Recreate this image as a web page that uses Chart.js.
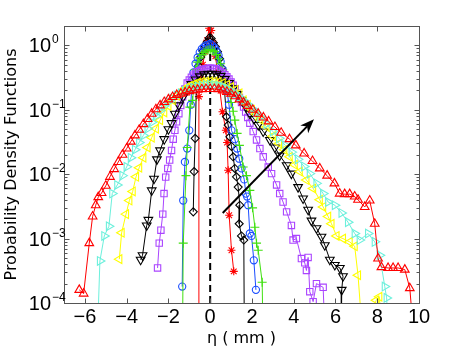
<!DOCTYPE html>
<html><head><meta charset="utf-8">
<script src="https://cdn.jsdelivr.net/npm/chart.js@4.4.1/dist/chart.umd.min.js"></script>
<style>html,body{margin:0;padding:0;background:#fff;}canvas{display:block;}</style>
</head><body>
<canvas id="c" width="463" height="349"></canvas>
<script>
// ---- tick labels ----
const xTickValues = [-6, -4, -2, 0, 2, 4, 6, 8, 10];
const yDecadeExponents = [-4, -3, -2, -1, 0];

// ---- series: [eta (mm), PDF] ----
const redStar = [[-0.56,1e-6],[-0.54,0.16],[-0.45,0.3],[-0.35,0.5],[-0.25,0.8],[-0.15,1.2],[-0.05,1.85],[0.05,1.7],[0.15,1.1],[0.25,0.68],[0.35,0.4],[0.45,0.22],[0.59,0.093],[0.75,0.048],[0.81,0.031],[0.86,0.0115],[0.91,0.0023],[1.02,6.6e-4],[1.13,3.1e-4]];
const blackDiamond = [[-0.81,2.6e-3],[-0.77,0.011],[-0.72,0.036],[-0.66,0.25],[-0.55,0.48],[-0.45,0.66],[-0.35,0.82],[-0.25,0.98],[-0.15,1.12],[-0.05,1.3],[0.05,1.28],[0.15,1.1],[0.25,0.95],[0.35,0.8],[0.45,0.62],[0.55,0.45],[0.65,0.29],[0.78,0.078],[0.86,0.058],[0.94,0.038],[1.02,0.027],[1.10,0.0186],[1.18,0.0123],[1.26,0.0091],[1.34,0.0063],[1.42,0.0033],[1.39,0.0017],[1.50,0.0011],[1.61,9.5e-4],[1.66,1e-6]];
const blueCircle = [[-1.34,1.8e-4],[-1.29,3.9e-3],[-1.21,0.0155],[-1.10,0.025],[-1.0,0.048],[-0.93,0.12],[-0.86,0.29],[-0.8,0.38],[-0.7,0.52],[-0.6,0.65],[-0.5,0.78],[-0.4,0.88],[-0.3,0.95],[-0.2,1.0],[-0.1,1.03],[0,1.05],[0.1,1.0],[0.2,0.92],[0.3,0.82],[0.4,0.7],[0.5,0.56],[0.6,0.42],[0.7,0.3],[0.8,0.2],[0.9,0.12],[1.02,0.048],[1.18,0.035],[1.29,0.025],[1.39,0.0174],[1.50,0.0123],[1.63,0.0083],[1.71,0.005],[1.77,0.0045],[1.82,0.0033],[1.90,0.0012],[1.98,0.0011],[2.09,4.6e-4],[2.19,1.6e-4]];
const greenPlus = [[-1.36,1e-6],[-1.29,8.5e-4],[-1.16,0.0095],[-1.10,0.026],[-0.97,0.11],[-0.84,0.14],[-0.77,0.29],[-0.7,0.42],[-0.6,0.55],[-0.5,0.64],[-0.4,0.72],[-0.3,0.78],[-0.2,0.82],[-0.1,0.85],[0,0.86],[0.1,0.84],[0.2,0.8],[0.3,0.72],[0.4,0.62],[0.5,0.52],[0.6,0.42],[0.7,0.33],[0.8,0.25],[0.9,0.19],[1.0,0.13],[1.1,0.095],[1.18,0.069],[1.29,0.043],[1.4,0.028],[1.58,0.0129],[1.74,0.0095],[1.90,0.0056],[2.03,0.003],[2.14,0.0015],[2.22,8.5e-4],[2.30,6.6e-4],[2.49,2.1e-4],[2.6,1e-6]];
const purpleSquare = [[-2.52,3.5e-4],[-2.44,8.5e-4],[-2.36,1.35e-3],[-2.27,2.4e-3],[-2.21,5e-3],[-2.13,0.009],[-2.03,0.0123],[-1.94,0.0166],[-1.85,0.0234],[-1.77,0.035],[-1.69,0.048],[-1.61,0.065],[-1.5,0.087],[-1.41,0.117],[-1.32,0.16],[-1.21,0.21],[-1.1,0.26],[-1.0,0.29],[-0.9,0.32],[-0.8,0.345],[-0.7,0.37],[-0.6,0.39],[-0.5,0.405],[-0.4,0.418],[-0.3,0.428],[-0.2,0.435],[-0.1,0.44],[0,0.44],[0.1,0.44],[0.2,0.435],[0.3,0.425],[0.4,0.41],[0.5,0.395],[0.6,0.375],[0.7,0.35],[0.8,0.325],[0.9,0.3],[1.0,0.27],[1.1,0.24],[1.2,0.21],[1.3,0.18],[1.4,0.155],[1.5,0.13],[1.6,0.11],[1.7,0.092],[1.8,0.076],[1.9,0.062],[2.06,0.046],[2.22,0.034],[2.38,0.025],[2.54,0.0186],[2.78,0.0129],[2.94,0.0102],[3.18,0.0068],[3.33,0.005],[3.49,0.0037],[3.66,0.0026],[3.89,0.0016],[3.97,9.5e-4],[4.13,1e-3],[4.37,4.9e-4],[4.53,4.2e-4],[4.61,3.2e-4],[4.69,5.1e-4],[4.77,1.5e-4],[4.93,1.05e-4],[5.09,2e-4],[5.41,1.75e-4],[5.5,3e-5]];
const blackTriangle = [[-3.33,4.7e-4],[-3.24,5.5e-4],[-3.04,1.6e-3],[-2.96,1.95e-3],[-2.8,5.6e-3],[-2.69,8.5e-3],[-2.55,0.017],[-2.4,0.0234],[-2.2,0.035],[-2.0,0.05],[-1.85,0.062],[-1.69,0.087],[-1.5,0.117],[-1.3,0.158],[-1.1,0.204],[-0.9,0.25],[-0.7,0.295],[-0.5,0.33],[-0.3,0.355],[-0.1,0.363],[0.1,0.363],[0.3,0.355],[0.5,0.335],[0.7,0.3],[0.9,0.26],[1.1,0.215],[1.3,0.175],[1.5,0.14],[1.7,0.112],[1.9,0.087],[2.1,0.072],[2.3,0.058],[2.54,0.046],[2.86,0.034],[3.1,0.026],[3.33,0.0195],[3.66,0.0138],[3.89,0.0102],[4.21,0.0063],[4.45,0.0042],[4.69,0.0028],[4.85,0.0019],[5.09,0.00145],[5.33,0.00107],[5.49,7.9e-4],[5.73,4.7e-4],[5.97,3.9e-4],[6.21,3.5e-4],[6.36,2.6e-4],[6.3,1.6e-4],[6.28,3e-5]];
const yellowTriangle = [[-4.35,4.8e-4],[-4.24,1.23e-3],[-4.03,2.4e-3],[-3.87,3.9e-3],[-3.71,5.4e-3],[-3.55,0.0091],[-3.4,0.0126],[-3.2,0.018],[-3.0,0.026],[-2.8,0.037],[-2.6,0.051],[-2.4,0.069],[-2.2,0.091],[-2.0,0.115],[-1.8,0.141],[-1.6,0.166],[-1.4,0.19],[-1.2,0.214],[-1.0,0.234],[-0.8,0.25],[-0.6,0.263],[-0.4,0.272],[-0.2,0.275],[0,0.277],[0.2,0.275],[0.4,0.27],[0.6,0.26],[0.8,0.245],[1.0,0.226],[1.2,0.205],[1.4,0.18],[1.6,0.14],[1.8,0.12],[2.0,0.1],[2.2,0.085],[2.4,0.07],[2.7,0.054],[3.0,0.039],[3.3,0.03],[3.55,0.024],[3.81,0.0186],[4.05,0.014],[4.29,0.011],[4.61,0.0081],[4.93,0.006],[5.25,0.004],[5.41,0.0031],[5.65,0.0022],[5.81,0.0017],[6.05,0.0011],[6.36,0.001],[6.68,8.9e-4],[6.92,7.6e-4],[7.08,2.7e-4],[7.3,3e-5],[7.95,1.1e-4],[8.1,1.25e-4],[8.25,3e-5]];
const cyanTriangle = [[-5.4,3e-5],[-5.28,4.5e-4],[-5.07,1.1e-3],[-4.85,1.55e-3],[-4.69,5e-3],[-4.45,6.8e-3],[-4.2,0.0095],[-4.0,0.013],[-3.8,0.018],[-3.6,0.024],[-3.4,0.031],[-3.2,0.04],[-3.0,0.051],[-2.8,0.064],[-2.6,0.08],[-2.4,0.097],[-2.2,0.115],[-2.0,0.133],[-1.8,0.15],[-1.6,0.166],[-1.4,0.18],[-1.2,0.195],[-1.0,0.208],[-0.8,0.22],[-0.6,0.23],[-0.4,0.238],[-0.2,0.243],[0,0.245],[0.2,0.243],[0.4,0.238],[0.6,0.228],[0.8,0.215],[1.0,0.198],[1.2,0.178],[1.4,0.158],[1.6,0.14],[1.8,0.122],[2.0,0.105],[2.2,0.09],[2.4,0.077],[2.7,0.06],[3.0,0.046],[3.3,0.036],[3.6,0.028],[3.9,0.022],[4.2,0.017],[4.5,0.0132],[4.77,0.0102],[5.09,0.0072],[5.41,0.005],[5.65,0.0037],[5.97,0.0033],[6.29,0.0025],[6.6,0.0018],[6.92,0.0012],[7.16,9.5e-4],[7.56,1.2e-3],[7.88,8.9e-4],[8.12,5.5e-4],[8.36,1.8e-4],[8.45,1.2e-4],[8.55,3e-5]];
const redTriangle = [[-6.27,1.6e-4],[-6.06,1.4e-4],[-5.79,8.5e-4],[-5.63,2.2e-3],[-5.48,3.3e-3],[-5.36,4.4e-3],[-5.2,5.1e-3],[-5.0,6.6e-3],[-4.8,9.1e-3],[-4.6,0.012],[-4.4,0.0155],[-4.2,0.02],[-4.0,0.025],[-3.8,0.032],[-3.6,0.04],[-3.4,0.049],[-3.2,0.06],[-3.0,0.072],[-2.8,0.087],[-2.6,0.102],[-2.4,0.117],[-2.2,0.132],[-2.0,0.145],[-1.8,0.158],[-1.6,0.17],[-1.4,0.178],[-1.2,0.186],[-1.0,0.195],[-0.8,0.2],[-0.6,0.205],[-0.4,0.208],[-0.2,0.21],[0,0.21],[0.2,0.21],[0.4,0.208],[0.6,0.2],[0.8,0.19],[1.0,0.178],[1.2,0.162],[1.4,0.145],[1.6,0.13],[1.8,0.115],[2.04,0.1],[2.3,0.087],[2.55,0.076],[2.8,0.066],[3.1,0.054],[3.4,0.044],[3.8,0.035],[4.1,0.028],[4.5,0.021],[4.9,0.016],[5.25,0.0123],[5.6,0.0095],[5.95,0.0072],[6.2,0.005],[6.44,0.0049],[6.68,0.0049],[6.92,0.0045],[7.08,0.004],[7.4,0.0031],[7.64,0.0039],[7.88,0.0017],[8.04,4.9e-4],[8.2,3.6e-4],[8.52,3.5e-4],[8.76,3.5e-4],[9.0,3.5e-4],[9.32,3.3e-4],[9.56,1.7e-4],[9.75,3e-5]];
const zeroLine = [[0,1e-4],[0,2]];
const arrowTail = [0.6, 2.5e-3];
const arrowHead = [4.97, 0.071];

const toXY = arr => arr.map(p => ({x: p[0], y: p[1]}));

function series(data, color, style, rotation, radius, order) {
  return {
    data: toXY(data), borderColor: color, backgroundColor: color,
    borderWidth: 1, pointStyle: style, pointRotation: rotation, pointRadius: radius,
    pointBorderColor: color, pointBackgroundColor: 'rgba(0,0,0,0)', pointBorderWidth: 1.1,
    tension: 0, order: order
  };
}

const decor = {
  id: 'decor',
  beforeDraw(chart) {
    const ctx = chart.ctx; ctx.save(); ctx.fillStyle = '#fff';
    ctx.fillRect(0, 0, chart.width, chart.height); ctx.restore();
  },
  afterDatasetsDraw(chart) {
    const ctx = chart.ctx, xs = chart.scales.x, ys = chart.scales.y;
    const x0 = xs.getPixelForValue(arrowTail[0]), y0 = ys.getPixelForValue(arrowTail[1]);
    const x1 = xs.getPixelForValue(arrowHead[0]), y1 = ys.getPixelForValue(arrowHead[1]);
    const ang = Math.atan2(y1 - y0, x1 - x0), c = Math.cos(ang), s = Math.sin(ang);
    const L = 14, W = 5.5;
    ctx.save();
    ctx.strokeStyle = '#000'; ctx.fillStyle = '#000'; ctx.lineWidth = 2;
    ctx.beginPath(); ctx.moveTo(x0, y0); ctx.lineTo(x1 - c * L * 0.7, y1 - s * L * 0.7); ctx.stroke();
    ctx.beginPath(); ctx.moveTo(x1, y1);
    ctx.lineTo(x1 - L * c + W * s, y1 - L * s - W * c);
    ctx.lineTo(x1 - L * 0.7 * c, y1 - L * 0.7 * s);
    ctx.lineTo(x1 - L * c - W * s, y1 - L * s + W * c);
    ctx.closePath(); ctx.fill();
    ctx.restore();
  },
  afterDraw(chart) {
    const ctx = chart.ctx, a = chart.chartArea, xs = chart.scales.x, ys = chart.scales.y;
    ctx.save();
    ctx.strokeStyle = '#555'; ctx.lineWidth = 1;
    const L = Math.round(a.left) + 0.5, R = Math.round(a.right) + 0.5, T = Math.round(a.top) + 0.5, B = Math.round(a.bottom) + 0.5;
    ctx.strokeRect(L, T, R - L, B - T);
    ctx.beginPath();
    xTickValues.forEach(v => {
      const px = Math.round(xs.getPixelForValue(v)) + 0.5;
      ctx.moveTo(px, B); ctx.lineTo(px, B - 5);
      ctx.moveTo(px, T); ctx.lineTo(px, T + 5);
    });
    yDecadeExponents.forEach(e => {
      for (let m = 1; m <= 9; m++) {
        const v = m * Math.pow(10, e);
        if (v > ys.max) break;
        const py = Math.round(ys.getPixelForValue(v)) + 0.5;
        const len = m === 1 ? 5 : 3;
        ctx.moveTo(L, py); ctx.lineTo(L + len, py);
        ctx.moveTo(R, py); ctx.lineTo(R - len, py);
      }
    });
    ctx.stroke();
    ctx.fillStyle = '#000';
    yDecadeExponents.forEach(e => {
      const py = ys.getPixelForValue(Math.pow(10, e));
      ctx.font = '20px "Liberation Sans", Arial, sans-serif';
      ctx.textAlign = 'right'; ctx.textBaseline = 'alphabetic';
      ctx.fillText('10', a.left - 13, py + 7);
      ctx.font = '12px "Liberation Sans", Arial, sans-serif';
      ctx.textAlign = 'left';
      ctx.fillText(e < 0 ? '\u2212' + (-e) : String(e), a.left - 12, py - 2);
    });
    ctx.restore();
  }
};

new Chart(document.getElementById('c'), {
  type: 'line',
  data: {
    datasets: [
      series(redStar, '#ff0000', 'star', 0, 4, 9),
      series(blackDiamond, '#000000', 'rectRot', 0, 4, 8),
      series(blueCircle, '#1a4dff', 'circle', 0, 3.6, 7),
      series(greenPlus, '#40e010', 'cross', 0, 4.5, 6),
      series(purpleSquare, '#aa44ff', 'rect', 0, 4.5, 5),
      series(blackTriangle, '#000000', 'triangle', 180, 5, 4),
      series(yellowTriangle, '#ffff00', 'triangle', -90, 5, 3),
      series(cyanTriangle, '#6cf0dc', 'triangle', 90, 5, 2),
      series(redTriangle, '#ff0000', 'triangle', 0, 5, 1),
      { data: toXY(zeroLine), borderColor: '#000', borderWidth: 2, borderDash: [7, 4], pointRadius: 0, order: 10 }
    ]
  },
  options: {
    responsive: false, animation: false, devicePixelRatio: 1, events: [],
    layout: { padding: { left: 0, right: 44, top: 26, bottom: 0 } },
    plugins: { legend: { display: false }, tooltip: { enabled: false } },
    scales: {
      x: {
        type: 'linear', min: -7, max: 10,
        grid: { display: false, drawTicks: false }, border: { display: false },
        afterBuildTicks: s => { s.ticks = xTickValues.map(v => ({ value: v })); },
        ticks: {
          font: { family: '"Liberation Sans", Arial, sans-serif', size: 20 }, color: '#000', padding: 2,
          maxRotation: 0, autoSkip: false,
          callback: v => v < 0 ? '\u2212' + Math.abs(v) : String(v)
        },
        title: { display: true, text: 'η ( mm )', color: '#000',
          font: { family: '"DejaVu Sans", sans-serif', size: 16 }, padding: { top: 0, bottom: 1 } },
        afterFit: s => { s.height = 46; }
      },
      y: {
        type: 'logarithmic', min: 1e-4, max: 2,
        grid: { display: false, drawTicks: false }, border: { display: false },
        ticks: { display: false },
        title: { display: true, text: 'Probability Density Functions', color: '#000',
          font: { family: '"DejaVu Sans", sans-serif', size: 16 }, padding: { top: 2, bottom: 0 } },
        afterFit: s => { s.width = 64; }
      }
    }
  },
  plugins: [decor]
});
</script>
</body></html>
